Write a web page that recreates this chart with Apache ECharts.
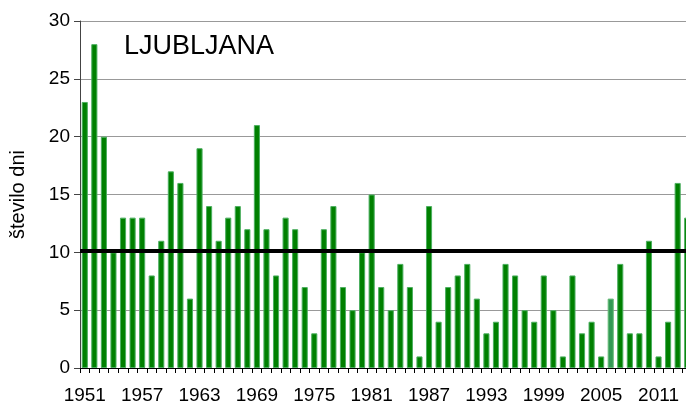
<!DOCTYPE html>
<html>
<head>
<meta charset="utf-8">
<script src="https://cdn.jsdelivr.net/npm/echarts@6/dist/echarts.min.js"></script>
<style>html,body{margin:0;padding:0;background:#fff;overflow:hidden;width:686px;height:405px}#c{width:692px;height:405px}</style>
</head>
<body>
<div id="c"></div>
<script>
var years = [];
for (var y = 1951; y <= 2014; y++) years.push(String(y));
var days = [23,28,20,10,13,13,13,8,11,17,
            16,6,19,14,11,13,14,12,21,12,
            8,13,12,7,3,12,14,7,5,10,
            15,7,5,9,7,1,14,4,7,8,
            9,6,3,4,9,8,5,4,8,5,
            1,8,3,4,1,6,9,3,3,11,
            1,4,16,13];
var highlightYear = '2006';
var meanValue = 10.1;
var yTicks = [0,5,10,15,20,25,30];
var titleText = 'LJUBLJANA';
var yName = 'število dni';

var barData = days.map(function(v, i){
  if (years[i] === highlightYear) {
    return {value: v, itemStyle: {color: '#339955', borderColor: '#66bb77'}};
  }
  return v;
});

var chart = echarts.init(document.getElementById('c'));
chart.setOption({
  animation: false,
  backgroundColor: '#fff',
  title: {
    text: titleText, left: 119, top: 28,
    textStyle: {fontFamily: 'Liberation Sans', fontSize: 27, fontWeight: 'normal', color: '#000'}
  },
  grid: {left: 79, right: 0, top: 21, bottom: 37, containLabel: false},
  xAxis: {
    type: 'category', data: years, boundaryGap: true,
    axisLine: {lineStyle: {color: '#000', width: 1}},
    axisTick: {show: true, interval: 0, length: 5, lineStyle: {color: '#000'}},
    axisLabel: {interval: 5, color: '#000', fontFamily: 'Liberation Sans', fontSize: 19, margin: 18},
    splitLine: {show: false}
  },
  yAxis: {
    type: 'value', min: yTicks[0], max: yTicks[yTicks.length-1], interval: 5,
    name: yName, nameLocation: 'middle', nameGap: 52, nameRotate: 90,
    nameTextStyle: {fontFamily: 'Liberation Sans', fontSize: 20, color: '#000'},
    axisLine: {show: true, lineStyle: {color: '#444', width: 1}},
    axisTick: {show: true, length: 6, lineStyle: {color: '#444'}},
    axisLabel: {color: '#000', fontFamily: 'Liberation Sans', fontSize: 19, margin: 10},
    splitLine: {show: true, lineStyle: {color: '#999', width: 1}}
  },
  series: [{
    type: 'bar', data: barData, barCategoryGap: '36%',
    itemStyle: {color: '#008000', borderColor: '#4caf60', borderWidth: 1},
    markLine: {
      silent: true, symbol: ['none','none'], label: {show: false},
      lineStyle: {color: '#000', width: 4, type: 'solid'},
      data: [{yAxis: meanValue}]
    }
  }]
});
</script>
</body>
</html>
